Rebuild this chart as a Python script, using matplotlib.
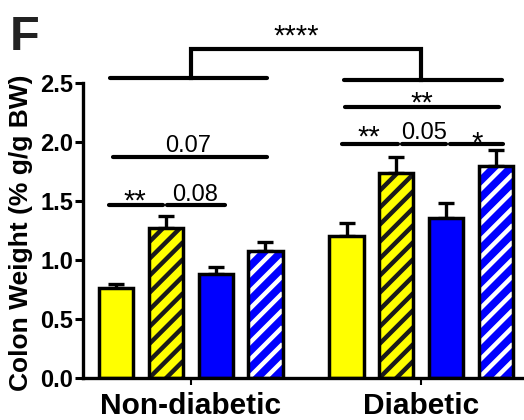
import matplotlib
matplotlib.use("Agg")
import matplotlib.pyplot as plt
import numpy as np

# ---- data ----
groups = ["Non-diabetic", "Diabetic"]
nd_means = [0.76, 1.27, 0.88, 1.08]
nd_sems = [0.04, 0.10, 0.06, 0.07]
d_means = [1.20, 1.74, 1.36, 1.80]
d_sems = [0.11, 0.13, 0.12, 0.13]
bar_faces = ["#FFFF00", "#FFFF00", "#0000FF", "#0000FF"]
bar_hatch_colors = [None, "#1a1a1a", None, "#FFFFFF"]
yticks = [0.0, 0.5, 1.0, 1.5, 2.0, 2.5]
ylabel = "Colon Weight (% g/g BW)"

plt.rcParams["font.family"] = ["Liberation Sans", "DejaVu Sans"]

fig = plt.figure(figsize=(5.24, 4.2), dpi=100)
ax = fig.add_axes([83 / 524, 42 / 420, 441 / 524, 378 / 420])
ax.set_xlim(-2.17, 6.70)
ax.set_ylim(0, 378 / 118)

group_centers = [0.0, 4.63]
offsets = np.array([-1.5, -0.5, 0.5, 1.5])
width = 0.69

# pixel scale of the data axes (for 45-degree stripes)
o = ax.transData.transform((0, 0))
px_x = ax.transData.transform((1, 0))[0] - o[0]
px_y = ax.transData.transform((0, 1))[1] - o[1]
STRIPE_GAP = 17.0   # vertical pixel spacing between stripes
STRIPE_LW = 3.2

def stripes(rect, color, height):
    x0 = rect.get_x()
    x1 = x0 + rect.get_width()
    wpx = (x1 - x0) * px_x
    hpx = height * px_y
    c = -wpx
    while c < hpx + wpx:
        xa, xb = x0, x1
        ya = c / px_y
        yb = (c + wpx) / px_y
        ln, = ax.plot([xa, xb], [ya, yb], color=color, lw=STRIPE_LW,
                      solid_capstyle="butt", zorder=2.5)
        ln.set_clip_path(rect)
        c += STRIPE_GAP

all_means = [nd_means, d_means]
all_sems = [nd_sems, d_sems]
pos = []
for g, c in enumerate(group_centers):
    xs = c + offsets
    pos.append(xs)
    for i, x in enumerate(xs):
        m = all_means[g][i]
        s = all_sems[g][i]
        ax.errorbar([x], [m], yerr=[[0], [s]], fmt="none", ecolor="black",
                    elinewidth=2.4, capsize=5.5, capthick=2.4, zorder=1)
        bars = ax.bar([x], [m], width=width, color=bar_faces[i], edgecolor="none",
                      linewidth=0, zorder=2)
        if bar_hatch_colors[i] is not None:
            stripes(bars[0], bar_hatch_colors[i], m)
        ax.bar([x], [m], width=width, color="none", edgecolor="black",
               linewidth=2.5, zorder=3)

ax.spines["top"].set_visible(False)
ax.spines["right"].set_visible(False)
ax.spines["left"].set_bounds(0, 2.5)
ax.spines["left"].set_linewidth(2.4)
ax.spines["bottom"].set_linewidth(2.4)
ax.set_yticks(yticks)
ax.set_yticklabels([f"{v:.1f}" for v in yticks], fontsize=17, fontweight="bold")
ax.tick_params(axis="y", length=6, width=2.2, pad=1)
ax.set_xticks(group_centers)
ax.set_xticklabels(groups, fontsize=21.5, fontweight="bold")
ax.tick_params(axis="x", length=5, width=1.5, pad=5)
ax.set_ylabel(ylabel, fontsize=19, fontweight="bold")
ax.yaxis.set_label_coords(-0.113, 0.384)

LW = 3.0
def hline(x0, x1, y):
    ax.plot([x0, x1], [y, y], color="black", lw=LW, solid_capstyle="round",
            clip_on=False, zorder=4)

def label(x, y, s, star):
    ax.text(x, y, s, ha="center", va="baseline", fontsize=21 if star else 17,
            clip_on=False, zorder=5)

p0, p1 = pos
# Non-diabetic comparisons
hline(p0[0] - 0.15, p0[1] - 0.06, 1.466); label(-1.12, 1.43, "**", True)
hline(p0[1] + 0.02, p0[2] + 0.18, 1.466); label(0.09, 1.503, "0.08", False)
hline(p0[0] - 0.07, p0[3] + 0.03, 1.873); label(-0.06, 1.915, "0.07", False)
hline(p0[0] - 0.13, p0[3] + 0.03, 2.54)
# Diabetic comparisons
hline(p1[0] - 0.09, p1[1] + 0.03, 1.98); label(3.58, 1.97, "**", True)
hline(p1[1] + 0.12, p1[2] + 0.00, 1.98); label(4.69, 2.025, "0.05", False)
hline(p1[2] + 0.08, p1[3] + 0.15, 1.98); label(5.76, 1.92, "*", True)
hline(p1[0] - 0.03, p1[3] + 0.07, 2.30); label(4.65, 2.26, "**", True)
hline(p1[0] - 0.05, p1[3] + 0.13, 2.525)
# Overall bracket
ax.plot([group_centers[0], group_centers[0], group_centers[1], group_centers[1]],
        [2.54, 2.788, 2.788, 2.525], color="black", lw=LW, clip_on=False,
        zorder=4, solid_joinstyle="miter")
label(2.11, 2.825, "****", True)

fig.text(10 / 524, 1 - 50 / 420, "F", fontsize=35, fontweight="bold",
         color="#222222", ha="left", va="baseline")

fig.savefig("out.png", dpi=100)
